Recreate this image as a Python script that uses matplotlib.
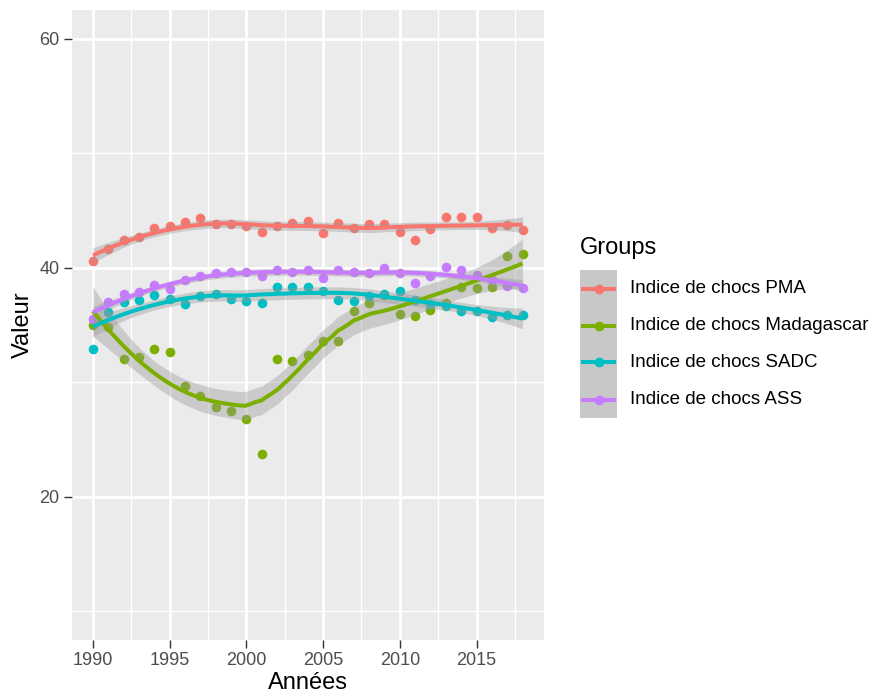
import numpy as np
import matplotlib
matplotlib.use('Agg')
import matplotlib.pyplot as plt
from matplotlib.lines import Line2D
from matplotlib.patches import Rectangle

plt.rcParams['font.family'] = ['Liberation Sans', 'DejaVu Sans']

years = np.arange(1990, 2019)
pma = [40.6, 41.6, 42.4, 42.7, 43.5, 43.6, 44.0, 44.3, 43.8, 43.8, 43.6, 43.1, 43.6, 43.9, 44.1,
       43.0, 43.9, 43.5, 43.8, 43.8, 43.1, 42.4, 43.4, 44.4, 44.4, 44.4, 43.5, 43.7, 43.3]
madagascar = [35.0, 34.8, 32.0, 32.2, 32.9, 32.6, 29.7, 28.8, 27.8, 27.5, 26.8, 23.7, 32.0, 31.9, 32.4,
              33.6, 33.6, 36.2, 36.9, 37.6, 36.0, 35.8, 36.3, 36.9, 38.3, 38.2, 38.3, 41.0, 41.2]
sadc = [32.9, 36.1, 37.0, 37.2, 37.6, 37.3, 36.8, 37.5, 37.7, 37.3, 37.1, 36.9, 38.3, 38.3, 38.3,
        38.0, 37.2, 37.1, 37.5, 37.7, 38.0, 37.2, 36.8, 36.7, 36.2, 36.2, 35.7, 35.9, 35.9]
ass = [35.5, 37.0, 37.7, 37.9, 38.5, 38.1, 38.9, 39.3, 39.5, 39.6, 39.6, 39.3, 39.8, 39.6, 39.8,
       39.1, 39.8, 39.6, 39.5, 40.0, 39.5, 38.7, 39.3, 40.1, 39.8, 39.4, 38.9, 38.4, 38.2]

groups = ['Indice de chocs PMA', 'Indice de chocs Madagascar', 'Indice de chocs SADC', 'Indice de chocs ASS']
series = [pma, madagascar, sadc, ass]
colors = ['#F8766D', '#7CAE00', '#00BFC4', '#C77CFF']
x_ticks = [1990, 1995, 2000, 2005, 2010, 2015]
y_ticks = [20, 40, 60]


def loess_weights(x, x0, span=0.75):
    # local quadratic fit with tricube weights, returns the linear smoother row
    n = len(x)
    q = int(np.floor(n * span))
    d = np.abs(x - x0)
    h = np.sort(d)[q - 1]
    w = np.clip(1 - (d / h) ** 3, 0, None) ** 3
    X = np.column_stack([np.ones(n), x - x0, (x - x0) ** 2])
    XtW = X.T * w
    return np.linalg.solve(XtW @ X, XtW)[0]


def t975(df):
    z = 1.959964
    return (z + (z ** 3 + z) / (4 * df) + (5 * z ** 5 + 16 * z ** 3 + 3 * z) / (96 * df ** 2)
            + (3 * z ** 7 + 19 * z ** 5 + 17 * z ** 3 - 15 * z) / (384 * df ** 3))


def smooth(x, y, n_out=80):
    x = np.asarray(x, float)
    y = np.asarray(y, float)
    L = np.array([loess_weights(x, xi) for xi in x])
    res = y - L @ y
    M = (np.eye(len(x)) - L).T @ (np.eye(len(x)) - L)
    delta1 = np.trace(M)
    delta2 = np.trace(M @ M)
    sigma = np.sqrt(np.sum(res ** 2) / delta1)
    xs = np.linspace(x.min(), x.max(), n_out)
    Ls = np.array([loess_weights(x, xi) for xi in xs])
    fit = Ls @ y
    se = sigma * np.sqrt(np.sum(Ls ** 2, axis=1))
    t = t975(delta1 ** 2 / delta2)
    return xs, fit, fit - t * se, fit + t * se


fig = plt.figure(figsize=(8.72, 6.93), dpi=100)
ax = fig.add_axes([71.5 / 872, 53 / 693, 472.5 / 872, 630 / 693])
ax.set_facecolor('#EBEBEB')

for y, c in zip(series, colors):
    ax.scatter(years, y, s=48, color=c, linewidths=0, zorder=3)

for y, c in zip(series, colors):
    xs, fit, lo, hi = smooth(years, y)
    ax.fill_between(xs, lo, hi, color='#999999', alpha=0.4, linewidth=0, zorder=4)
    ax.plot(xs, fit, color=c, lw=2.9, zorder=5, solid_capstyle='butt')

ax.set_xlim(1988.6, 2019.4)
ax.set_ylim(7.5, 62.5)
ax.set_xticks(x_ticks)
ax.set_yticks(y_ticks)
ax.set_xticks([1992.5, 1997.5, 2002.5, 2007.5, 2012.5, 2017.5], minor=True)
ax.set_yticks([10, 30, 50], minor=True)
ax.grid(which='major', color='white', lw=2.0)
ax.grid(which='minor', color='white', lw=1.0)
ax.set_axisbelow(True)
for s in ax.spines.values():
    s.set_visible(False)
ax.tick_params(which='major', length=5.5, width=1.0, color='#333333', labelsize=13,
               labelcolor='#4D4D4D', pad=3)
ax.tick_params(which='minor', length=0)

ax.set_xlabel('Années', fontsize=17, labelpad=2)
ax.set_ylabel('Valeur', fontsize=17, labelpad=4)

# legend drawn by hand so the grey key column stays continuous
fig.text(580 / 872, 1 - 248 / 693, 'Groups', fontsize=17, va='center', ha='left')
key_top, key_h = 270, 37
fig.patches.append(Rectangle((580 / 872, 1 - (key_top + 4 * key_h) / 693), 37 / 872, 4 * key_h / 693,
                             transform=fig.transFigure, facecolor='#C8C8C8', edgecolor='none'))
for i, (g, c) in enumerate(zip(groups, colors)):
    yc = 1 - (key_top + key_h * (i + 0.5)) / 693
    fig.lines.append(Line2D([583 / 872, 614 / 872], [yc, yc], transform=fig.transFigure,
                            color=c, lw=2.9))
    fig.lines.append(Line2D([598.5 / 872], [yc], transform=fig.transFigure, marker='o',
                            markersize=7, color=c, markeredgewidth=0))
    fig.text(630 / 872, yc, g, fontsize=13.5, va='center', ha='left')

plt.savefig('out.png', dpi=100)
